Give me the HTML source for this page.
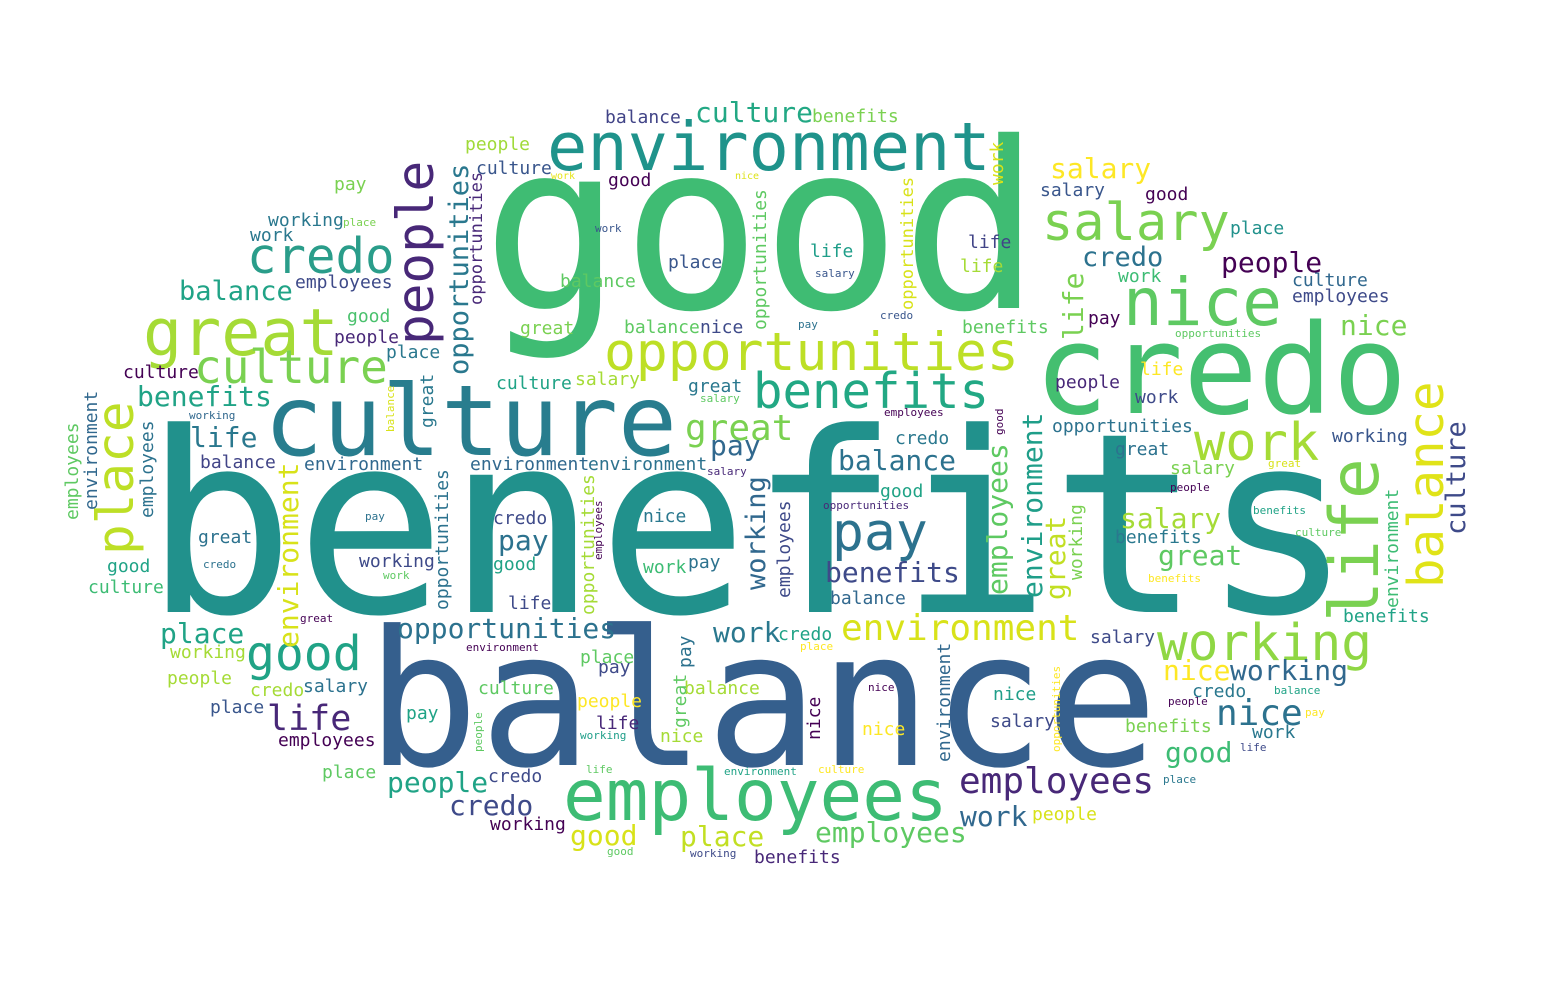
<!DOCTYPE html>
<html>
<head>
<meta charset="utf-8">
<style>
html,body{margin:0;padding:0;background:#fff;}
svg{display:block;}
text{font-family:"DejaVu Sans Mono","Liberation Mono",monospace;}
</style>
</head>
<body>
<svg id="cloud" width="1556" height="986" viewBox="0 0 1556 986" xmlns="http://www.w3.org/2000/svg">
<rect width="1556" height="986" fill="#ffffff"/>
<g id="words"></g>
</svg>
<script>
// word, x (left / baseline for vertical), baseline y (bottom for vertical), font size, color, vertical
const words = [
["benefits",144,612,251,"#21918c",0],
["balance",366,765,188,"#355f8d",0],
["good",482,308,232,"#3fbc73",0],
["culture",264,455,98,"#287d8e",0],
["credo",1034,413,124,"#44bf70",0],
["employees",563,820,71,"#3dbc74",0],
["environment",547,170,67,"#1f938b",0],
["opportunities",604,370,53,"#bddf26",0],
["great",143,355,65,"#a5db36",0],
["nice",1123,325,66,"#5ec962",0],
["salary",1042,240,52,"#7ad151",0],
["benefits",753,408,49,"#22a884",0],
["credo",247,273,49,"#2a9d8a",0],
["culture",194,383,46,"#7ad151",0],
["working",1157,660,51,"#8fd744",0],
["work",1194,460,52,"#a5db36",0],
["pay",832,550,53,"#2c728e",0],
["good",246,670,48,"#20a386",0],
["environment",841,640,36,"#d8e219",0],
["employees",959,793,36,"#482878",0],
["nice",1216,725,36,"#2c728e",0],
["great",685,440,36,"#7ad151",0],
["life",267,730,35,"#482878",0],
["opportunities",397,638,28,"#2c728e",0],
["people",1221,272,28,"#440154",0],
["balance",605,123,18,"#414487",0],
["culture",695,122,28,"#22a884",0],
["benefits",812,122,18,"#7ad151",0],
["people",465,150,18,"#a0da39",0],
["culture",476,174,18,"#39568c",0],
["good",608,186,18,"#440154",0],
["pay",334,190,18,"#7ad151",0],
["work",551,179,10,"#e5e419",0],
["nice",735,179,10,"#dde318",0],
["salary",1050,178,28,"#fde725",0],
["salary",1040,196,18,"#39568c",0],
["good",1145,200,18,"#440154",0],
["working",268,226,18,"#2a788e",0],
["place",343,226,11,"#7ad151",0],
["work",250,241,18,"#2a788e",0],
["work",595,232,11,"#39568c",0],
["place",1230,234,18,"#21918c",0],
["life",968,248,18,"#414487",0],
["life",810,257,18,"#1f9e89",0],
["place",668,268,18,"#39568c",0],
["life",960,272,18,"#a5db36",0],
["salary",815,277,11,"#39568c",0],
["credo",1082,266,27,"#2c728e",0],
["work",1118,282,18,"#3dbc74",0],
["culture",1292,286,18,"#31688e",0],
["employees",1292,302,18,"#3e4a89",0],
["balance",179,300,27,"#20a386",0],
["employees",295,288,18,"#3e4a89",0],
["balance",560,287,18,"#5ec962",0],
["good",347,322,18,"#4ac16d",0],
["people",334,343,18,"#482878",0],
["great",520,334,18,"#7ad151",0],
["balance",624,333,18,"#5ec962",0],
["nice",700,333,18,"#3e4a89",0],
["benefits",962,333,18,"#5ec962",0],
["pay",1088,324,18,"#440154",0],
["nice",1340,335,28,"#7ad151",0],
["pay",798,328,11,"#2c728e",0],
["credo",880,319,11,"#39568c",0],
["opportunities",1175,337,11,"#5ec962",0],
["place",386,358,18,"#2a788e",0],
["culture",123,378,18,"#440154",0],
["culture",496,389,18,"#20a386",0],
["salary",575,385,18,"#a5db36",0],
["great",688,392,18,"#2a788e",0],
["salary",700,402,11,"#5ec962",0],
["people",1055,388,18,"#482878",0],
["life",1140,375,18,"#fde725",0],
["work",1135,403,18,"#3e4a89",0],
["employees",884,416,11,"#440154",0],
["working",189,419,11,"#31688e",0],
["benefits",137,406,28,"#20a386",0],
["life",190,447,28,"#2a788e",0],
["balance",200,468,18,"#414487",0],
["environment",304,470,18,"#31688e",0],
["environment",470,470,18,"#31688e",0],
["environment",588,470,18,"#2c728e",0],
["salary",707,475,11,"#482878",0],
["pay",710,455,28,"#31688e",0],
["credo",895,444,18,"#2a788e",0],
["balance",838,470,28,"#2c728e",0],
["good",880,497,18,"#20a386",0],
["opportunities",1052,432,18,"#2c728e",0],
["great",1115,455,18,"#2c728e",0],
["working",1332,442,18,"#39568c",0],
["salary",1170,474,18,"#7ad151",0],
["great",1268,467,11,"#d8e219",0],
["people",1170,491,11,"#440154",0],
["opportunities",823,509,11,"#482878",0],
["benefits",1253,514,11,"#20a386",0],
["culture",1295,536,11,"#5ec962",0],
["salary",1120,528,28,"#a5db36",0],
["benefits",1115,543,18,"#2a788e",0],
["great",1158,565,28,"#5ec962",0],
["benefits",1148,582,11,"#fde725",0],
["pay",365,520,11,"#2c728e",0],
["credo",493,524,18,"#3e4a89",0],
["nice",643,522,18,"#2a788e",0],
["pay",498,550,28,"#2c728e",0],
["great",198,543,18,"#2c728e",0],
["credo",203,568,11,"#2c728e",0],
["good",107,572,18,"#20a386",0],
["culture",88,593,18,"#3dbc74",0],
["working",359,567,18,"#3e4a89",0],
["work",383,579,11,"#5ec962",0],
["good",493,570,18,"#20a386",0],
["work",643,573,18,"#3dbc74",0],
["pay",688,568,18,"#2c728e",0],
["benefits",825,582,28,"#3e4a89",0],
["balance",830,604,18,"#31688e",0],
["life",508,609,18,"#3e4a89",0],
["great",300,622,11,"#440154",0],
["place",160,643,28,"#20a386",0],
["benefits",1343,622,18,"#20a386",0],
["salary",1090,643,18,"#3e4a89",0],
["work",713,642,28,"#2a788e",0],
["credo",778,640,18,"#20a386",0],
["place",800,650,11,"#fde725",0],
["environment",466,651,11,"#440154",0],
["working",170,658,18,"#a5db36",0],
["place",580,663,18,"#5ec962",0],
["pay",598,673,18,"#3e4a89",0],
["people",167,684,18,"#a5db36",0],
["credo",250,696,18,"#a5db36",0],
["salary",303,692,18,"#2c728e",0],
["culture",478,694,18,"#5ec962",0],
["balance",684,694,18,"#a5db36",0],
["nice",1163,680,28,"#fde725",0],
["working",1230,680,28,"#31688e",0],
["credo",1192,697,18,"#2a788e",0],
["balance",1274,694,11,"#20a386",0],
["nice",868,691,11,"#440154",0],
["nice",993,700,18,"#1f9e89",0],
["place",210,713,18,"#39568c",0],
["pay",406,719,18,"#20a386",0],
["people",577,707,18,"#fde725",0],
["life",596,729,18,"#482878",0],
["salary",990,727,18,"#3e4a89",0],
["employees",278,746,18,"#440154",0],
["nice",660,742,18,"#a5db36",0],
["working",580,739,11,"#1f9e89",0],
["nice",862,735,18,"#fde725",0],
["benefits",1125,732,18,"#7ad151",0],
["people",1168,705,11,"#440154",0],
["pay",1305,716,11,"#fde725",0],
["work",1252,738,18,"#2a788e",0],
["life",1240,751,11,"#3e4a89",0],
["good",1165,762,28,"#3dbc74",0],
["place",1163,783,11,"#2a788e",0],
["place",322,778,18,"#5ec962",0],
["people",387,792,28,"#20a386",0],
["credo",488,782,18,"#3e4a89",0],
["life",586,773,11,"#5ec962",0],
["environment",724,775,11,"#20a386",0],
["culture",818,773,11,"#fde725",0],
["credo",449,815,28,"#3e4a89",0],
["working",490,830,18,"#440154",0],
["good",570,845,28,"#d8e219",0],
["place",680,846,28,"#c2df23",0],
["employees",815,842,28,"#5ec962",0],
["work",960,826,28,"#31688e",0],
["people",1032,820,18,"#d8e219",0],
["good",607,855,11,"#5ec962",0],
["working",690,857,11,"#3e4a89",0],
["benefits",754,863,18,"#482878",0],
// vertical words (x = baseline x, y = bottom of text)
["people",433,345,51,"#482878",1],
["place",133,555,51,"#bddf26",1],
["life",1378,622,68,"#7ad151",1],
["balance",1443,588,49,"#e0e318",1],
["opportunities",468,375,27,"#2a788e",1],
["opportunities",482,305,17,"#482878",1],
["opportunities",766,330,18,"#5ec962",1],
["opportunities",913,310,17,"#d8e219",1],
["life",1083,340,28,"#7ad151",1],
["great",433,428,18,"#2a788e",1],
["balance",394,432,11,"#d8e219",1],
["employees",78,520,18,"#5ec962",1],
["environment",97,510,18,"#31688e",1],
["employees",153,518,18,"#2c728e",1],
["environment",298,648,28,"#d8e219",1],
["opportunities",448,610,18,"#2c728e",1],
["opportunities",594,615,18,"#a5db36",1],
["employees",602,560,11,"#440154",1],
["working",765,590,27,"#31688e",1],
["employees",790,598,18,"#3e4a89",1],
["employees",1007,595,28,"#5ec962",1],
["environment",1042,598,28,"#1f9e89",1],
["great",1065,600,28,"#c2df23",1],
["working",1082,580,18,"#7ad151",1],
["pay",691,668,18,"#2c728e",1],
["great",686,728,18,"#5ec962",1],
["nice",820,740,18,"#440154",1],
["environment",950,762,18,"#31688e",1],
["opportunities",1060,752,11,"#fde725",1],
["people",482,752,11,"#5ec962",1],
["good",1003,435,11,"#440154",1],
["culture",1465,535,27,"#3e4a89",1],
["environment",1398,608,18,"#3dbc74",1],
["work",1003,185,18,"#d8e219",1]
];
const g = document.getElementById('words');
const NS = 'http://www.w3.org/2000/svg';
words.forEach(function(w){
  const t = document.createElementNS(NS,'text');
  
  
  t.setAttribute('font-size', w[3]);
  t.setAttribute('fill', w[4]);
  if (w[5]) {
    t.setAttribute('transform', 'translate(' + w[1] + ',' + w[2] + ') rotate(-90)');
    t.setAttribute('x', 0);
    t.setAttribute('y', 0);
  } else {
    t.setAttribute('x', w[1]);
    t.setAttribute('y', w[2]);
  }
  t.textContent = w[0];
  g.appendChild(t);
});
</script>
</body>
</html>
